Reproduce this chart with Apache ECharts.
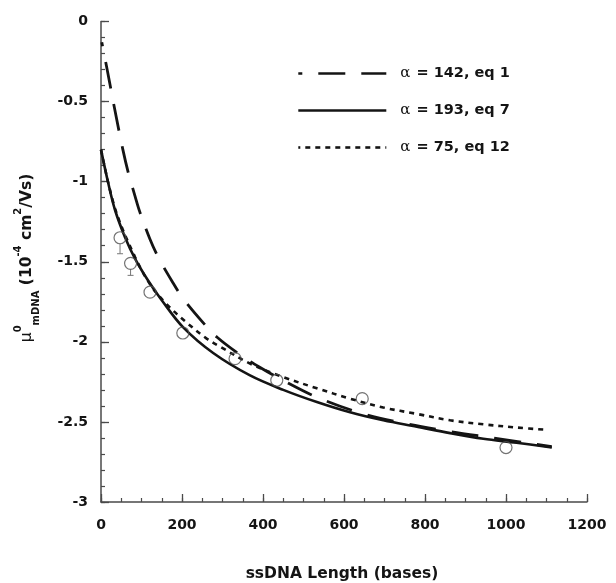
<!DOCTYPE html>
<html>
<head>
<meta charset="utf-8">
<title>ssDNA mobility</title>
<script src="https://cdn.jsdelivr.net/npm/echarts@6/dist/echarts.min.js"></script>
<style>
html,body{margin:0;padding:0;background:#fff}
#chart{width:616px;height:583px}
</style>
</head>
<body>
<div id="chart"></div>
<script>
// measured points (circles) with lower error bar
var pointX = [47, 73, 121, 202, 331, 434, 645, 1000];
var pointY = [-1.35, -1.51, -1.69, -1.945, -2.105, -2.24, -2.355, -2.66];
var pointErr = [0.10, 0.075, 0, 0, 0, 0, 0, 0];

// alpha = 142, eq 1 (dashed)
var eq1X = [2, 16, 34, 54, 67, 84, 96, 121, 141, 175, 203, 252, 286, 343, 393, 449, 537, 642, 750, 862, 968, 1113];
var eq1Y = [-0.13, -0.31, -0.55, -0.80, -0.94, -1.09, -1.19, -1.36, -1.47, -1.62, -1.73, -1.88, -1.97, -2.08, -2.16, -2.24, -2.35, -2.445, -2.51, -2.56, -2.60, -2.655];

// alpha = 193, eq 7 (solid)
var eq7X = [0, 18, 35, 59, 84, 117, 150, 203, 277, 368, 450, 533, 615, 697, 780, 862, 944, 1026, 1113];
var eq7Y = [-0.80, -1.01, -1.18, -1.345, -1.48, -1.62, -1.74, -1.91, -2.07, -2.21, -2.30, -2.376, -2.44, -2.49, -2.53, -2.57, -2.605, -2.63, -2.66];

// alpha = 75, eq 12 (dotted)
var eq12X = [0, 35, 84, 121, 160, 207, 261, 294, 368, 450, 533, 615, 697, 780, 862, 944, 1026, 1104];
var eq12Y = [-0.80, -1.17, -1.47, -1.64, -1.76, -1.87, -1.98, -2.03, -2.136, -2.22, -2.29, -2.355, -2.41, -2.45, -2.49, -2.515, -2.535, -2.55];

var names = ['α = 142, eq 1', 'α = 193, eq 7', 'α = 75, eq 12'];

function pairs(xs, ys){
  var out = [];
  for(var i=0;i<xs.length;i++){ out.push([xs[i], ys[i]]); }
  return out;
}

var FONT = 'DejaVu Sans';
var INK = '#141414';
var AXIS = '#4a4a4a';
var gridBox = {
  left: 101, right: 29, top: 21.5, bottom: 81,
  containLabel: false,
  outerBoundsMode: 'none'
};

// minor ticks live on a second, empty grid laid exactly over the first one
function minorAxis(min, max, step, pos){
  return {
    gridIndex: 1,
    type: 'value', min: min, max: max, interval: step, position: pos,
    axisLine: { show: false, onZero: false },
    axisTick: { show: true, inside: true, length: 4, lineStyle: { color: AXIS, width: 1.2 } },
    axisLabel: { show: false },
    splitLine: { show: false }
  };
}

var myChart = echarts.init(document.getElementById('chart'));
var option = {
  backgroundColor: '#fff',
  animation: false,
  color: [INK, INK, INK],
  grid: [gridBox, gridBox],
  legend: {
    data: names,
    orient: 'vertical',
    left: 292,
    top: 61,
    itemWidth: 88,
    itemHeight: 14,
    itemGap: 22,
    itemStyle: { opacity: 0, borderWidth: 0 },
    lineStyle: { width: 2.6 },
    formatter: function(name){
      return '{a|α}{t|' + name.substring(1) + '}';
    },
    textStyle: {
      color: INK,
      rich: {
        a: { fontFamily: 'DejaVu Serif', fontSize: 15, color: INK, padding: [0, 1, 0, 9] },
        t: { fontFamily: FONT, fontWeight: 'bold', fontSize: 14.5, color: INK }
      }
    }
  },
  xAxis: [{
    gridIndex: 0,
    type: 'value',
    min: 0, max: 1200, interval: 200, position: 'bottom',
    axisLine: { show: true, onZero: false, lineStyle: { color: AXIS, width: 1.5 } },
    axisTick: { show: true, inside: true, length: 8, lineStyle: { color: AXIS, width: 1.3 } },
    splitLine: { show: false },
    axisLabel: {
      margin: 16, color: INK, fontFamily: FONT, fontWeight: 'bold', fontSize: 14,
      formatter: function(v){ return String(v); }
    }
  }, minorAxis(0, 1200, 50, 'bottom')],
  yAxis: [{
    gridIndex: 0,
    type: 'value',
    min: -3, max: 0, interval: 0.5, position: 'left',
    axisLine: { show: true, onZero: false, lineStyle: { color: AXIS, width: 1.5 } },
    axisTick: { show: true, inside: true, length: 8, lineStyle: { color: AXIS, width: 1.3 } },
    splitLine: { show: false },
    axisLabel: {
      margin: 13, color: INK, fontFamily: FONT, fontWeight: 'bold', fontSize: 14,
      formatter: function(v){ return String(v); }
    }
  }, minorAxis(-3, 0, 0.1, 'left')],
  graphic: [
    {
      type: 'text',
      x: 27, y: 258,
      rotation: Math.PI / 2,
      style: {
        text: '{mu|μ}{sup|0}{sub|mDNA}{t| (10}{sup|-4}{t| cm}{sup|2}{t|/Vs)}',
        align: 'center',
        verticalAlign: 'middle',
        fill: INK,
        rich: {
          t: { fontFamily: FONT, fontWeight: 'bold', fontSize: 15.5, lineHeight: 28, fill: INK },
          mu: { fontFamily: FONT, fontSize: 15.5, lineHeight: 28, fill: INK },
          sup: { fontFamily: FONT, fontWeight: 'bold', fontSize: 10, lineHeight: 10, verticalAlign: 'top', fill: INK },
          sub: { fontFamily: FONT, fontWeight: 'bold', fontSize: 10, lineHeight: 10, verticalAlign: 'bottom', fill: INK }
        }
      }
    },
    {
      type: 'text',
      x: 342, y: 574,
      style: {
        text: 'ssDNA Length (bases)',
        align: 'center',
        verticalAlign: 'middle',
        fill: INK,
        fontFamily: FONT,
        fontWeight: 'bold',
        fontSize: 15.5
      }
    }
  ],
  series: [
    {
      name: names[2],
      type: 'line',
      data: pairs(eq12X, eq12Y),
      smooth: 0.35,
      symbol: 'none',
      itemStyle: { color: INK },
      lineStyle: { color: INK, width: 2.6, type: [5, 5] },
      z: 2
    },
    {
      name: names[1],
      type: 'line',
      data: pairs(eq7X, eq7Y),
      smooth: 0.35,
      symbol: 'none',
      itemStyle: { color: INK },
      lineStyle: { color: INK, width: 2.6, type: 'solid' },
      z: 3
    },
    {
      name: names[0],
      type: 'line',
      data: pairs(eq1X, eq1Y),
      smooth: 0.35,
      symbol: 'none',
      itemStyle: { color: INK },
      lineStyle: { color: INK, width: 2.8, type: [27, 16], dashOffset: 23 },
      z: 4
    },
    {
      name: 'err',
      type: 'custom',
      data: pointX.map(function(x, i){ return [x, pointY[i], pointErr[i]]; }),
      renderItem: function(params, api){
        var err = api.value(2);
        if(!err){ return null; }
        var p0 = api.coord([api.value(0), api.value(1)]);
        var p1 = api.coord([api.value(0), api.value(1) - err]);
        return {
          type: 'group',
          children: [
            { type: 'line', shape: { x1: p0[0], y1: p0[1] + 6, x2: p1[0], y2: p1[1] }, style: { stroke: '#777', lineWidth: 1 } },
            { type: 'line', shape: { x1: p1[0] - 3, y1: p1[1], x2: p1[0] + 3, y2: p1[1] }, style: { stroke: '#777', lineWidth: 1 } }
          ]
        };
      },
      z: 5
    },
    {
      name: 'data',
      type: 'scatter',
      data: pairs(pointX, pointY),
      symbol: 'circle',
      symbolSize: 12,
      itemStyle: { color: 'rgba(255,255,255,0)', borderColor: '#505050', borderWidth: 1.2 },
      z: 6
    }
  ]
};
myChart.setOption(option);
</script>
</body>
</html>
